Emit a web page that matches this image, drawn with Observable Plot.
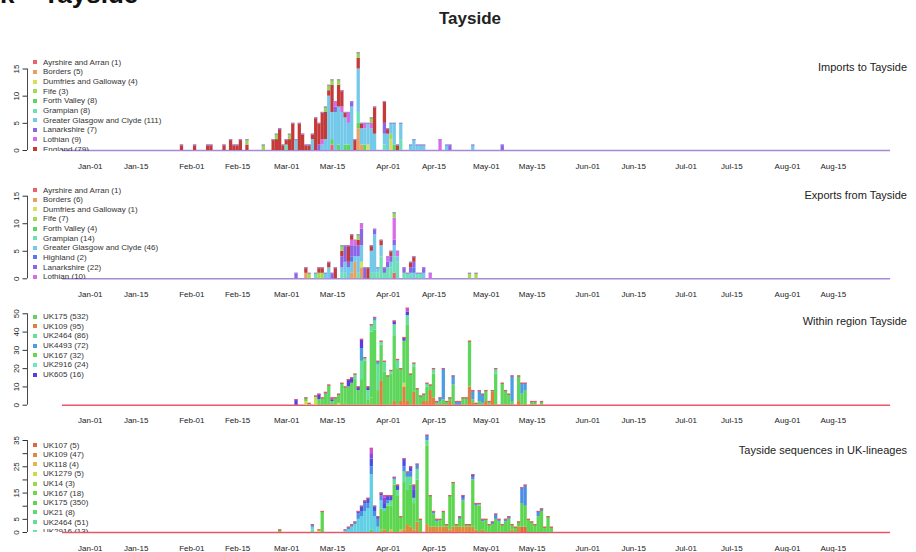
<!DOCTYPE html>
<html><head><meta charset="utf-8">
<script src="https://cdn.jsdelivr.net/npm/d3@7"></script>
<script src="https://cdn.jsdelivr.net/npm/@observablehq/plot@0.6"></script>
<style>
body{margin:0;background:#fff;font-family:"Liberation Sans",Arial,sans-serif;}
#page{position:relative;width:916px;height:552px;overflow:hidden;background:#fff;}
.panel{position:absolute;left:0;width:916px;}
.ptitle{position:absolute;right:9px;font-size:11px;line-height:11px;color:#222;white-space:nowrap;}
.legend{position:absolute;left:33px;width:200px;overflow:hidden;font-size:8px;color:#333;}
.legend .row{height:9.65px;display:flex;align-items:center;white-space:nowrap;}
.legend .sw{width:4px;height:4px;margin-right:6px;flex:none;}
#bigtitle{position:absolute;left:0;top:-19px;font-size:26px;line-height:26px;font-weight:bold;color:#111;white-space:nowrap;}
#title{position:absolute;left:470px;top:10.3px;transform:translateX(-50%);font-size:17px;line-height:17px;font-weight:bold;color:#222;}
</style></head>
<body><div id="page">
<div id="bigtitle">k – Tayside</div>
<div id="title">Tayside</div>
</div>
<script>
// ---------- shared axis data ----------
const xTickDates = ["2020-01-01","2020-01-15","2020-02-01","2020-02-15","2020-03-01","2020-03-15","2020-04-01","2020-04-15","2020-05-01","2020-05-15","2020-06-01","2020-06-15","2020-07-01","2020-07-15","2020-08-01","2020-08-15"];
const seriesRange = ["2019-12-24","2020-09-02"];

// ---------- panel 1: imports ----------
const importKeys = ["AA","BO","DG","FI","FV","GR","GGC","LA","LO","EN","X1"];
const importColors = ["#e8646a","#e8a063","#d8de5a","#a2dc52","#5cd65e","#6ee0b8","#74c8ea","#8c64e6","#d86ae8","#c33a38","#96d655"];
const importLegend = ["Ayrshire and Arran (1)","Borders (5)","Dumfries and Galloway (4)","Fife (3)","Forth Valley (8)","Grampian (8)","Greater Glasgow and Clyde (111)","Lanarkshire (7)","Lothian (9)","England (79)"];
const importDays = [
["01-29","EN:1"],["02-02","EN:1"],["02-06","EN:1"],["02-07","EN:1"],["02-11","EN:1"],
["02-13","EN:2"],["02-14","EN:1"],["02-15","EN:1"],["02-16","EN:2"],["02-18","EN:1 X1:1"],
["02-23","X1:1"],["02-26","EN:2"],["02-27","EN:2 X1:1"],["02-28","EN:4"],["02-29","EN:1"],
["03-01","GR:1 EN:1"],["03-02","EN:2 X1:1"],["03-03","EN:5"],["03-04","GGC:2"],["03-05","EN:5"],
["03-06","EN:3"],["03-07","EN:1"],["03-08","EN:1"],["03-09","GGC:2 EN:1"],["03-10","EN:6"],
["03-11","LA:1 EN:4"],["03-12","GGC:1 LO:1 EN:5"],["03-13","GGC:2 EN:5 X1:1"],["03-14","GGC:10 EN:1 X1:1"],
["03-15","AA:1 FV:1 GGC:5 EN:5 X1:1"],["03-16","GGC:7 LA:1 LO:1"],["03-17","FV:1 GGC:7 EN:4 X1:1"],
["03-18","GGC:7 LO:1 EN:3"],["03-19","FV:1 GGC:5 EN:1"],["03-20","FV:1 GGC:4 LO:2"],["03-21","GGC:8 LA:1"],
["03-22","EN:2"],["03-23","BO:4 FV:1 GR:2 GGC:8 EN:2 X1:1"],["03-24","BO:1 GGC:3 EN:1"],["03-25","FV:1 GGC:3 LO:1"],
["03-26","DG:1 GGC:4"],["03-27","GGC:4 LO:1 X1:1"],["03-28","GGC:3 EN:5"],["03-31","GR:1 GGC:2 LA:2 EN:4"],
["04-01","GGC:3 EN:1"],["04-02","DG:2 FI:1 GGC:2"],["04-03","FV:1 GGC:4"],["04-04","EN:1"],["04-05","GR:2 GGC:3"],
["04-08","GGC:1"],["04-09","GGC:2"],["04-10","GGC:1"],["04-11","GGC:1"],["04-12","GGC:1"],
["04-17","LO:2"],["04-19","GGC:1"],["04-20","LA:1"],["04-27","GGC:1"],["05-06","LA:1"]
];

// ---------- panel 2: exports ----------
const exportKeys = ["AA","BO","DG","FI","FV","GR","GGC","HI","LA","LO","EN","X1"];
const exportColors = ["#e8646a","#e8a063","#dce060","#a2dc52","#5cd65e","#6ee0b8","#74c8ea","#5c78e8","#8c64e6","#dc6aea","#c33a38","#96d655"];
const exportLegend = ["Ayrshire and Arran (1)","Borders (6)","Dumfries and Galloway (1)","Fife (7)","Forth Valley (4)","Grampian (14)","Greater Glasgow and Clyde (46)","Highland (2)","Lanarkshire (22)","Lothian (10)"];
const exportDays = [
["03-04","LA:1"],["03-07","BO:1 EN:1"],["03-08","FI:1"],["03-10","GR:1"],["03-11","FI:1 EN:1"],["03-12","FI:1 EN:1"],
["03-13","GGC:1"],["03-14","GGC:2 EN:1"],["03-15","LA:1"],["03-16","EN:2"],
["03-18","GR:1 GGC:1 LA:2 EN:1 X1:1"],["03-19","GR:1 GGC:2 LA:3"],["03-20","GGC:2 LA:1 EN:3"],
["03-21","BO:1 GGC:2 HI:1 LA:2 LO:1 EN:1"],["03-22","BO:3 GGC:1 LA:2 LO:1"],["03-23","GR:1 GGC:3 LA:2 EN:1 X1:1"],
["03-24","BO:2 DG:1 GGC:3 LA:3 LO:1"],["03-25","LA:2"],["03-26","EN:2"],["03-27","GR:1 GGC:4 EN:1"],
["03-28","GR:1 GGC:7 LA:1"],["03-29","GR:1 GGC:1"],["03-30","GR:4 GGC:2 EN:1"],["03-31","GR:1 LA:1"],
["04-01","GR:2 LA:1 LO:1"],["04-02","GR:2 GGC:1 LA:1 EN:1"],["04-03","AA:1 GR:3 GGC:2 LA:1 LO:4 X1:1"],
["04-04","GR:3 GGC:1 LO:1"],["04-06","GR:1 LA:1"],["04-07","GR:1"],["04-08","GR:1 LA:1 EN:1"],
["04-09","GGC:1 HI:1 LA:1 EN:1"],["04-10","GR:1"],["04-11","GR:1"],["04-12","GGC:1 LA:1"],["04-14","LO:1"],
["04-26","FI:1"],["04-28","FI:1"]
];

// ---------- panel 3: within region ----------
const withinKeys = ["UK109","Y","UK167","UK175","UK2464","UK2916","UK4493","UK605","M"];
const withinColors = ["#e0803c","#ccdc50","#6ad84a","#5ed65c","#64e09c","#6ce6c4","#4c9ee4","#5a3ce0","#c64ee0"];
const withinLegendKeys = ["UK175","UK109","UK2464","UK4493","UK167","UK2916","UK605"];
const withinLegend = ["UK175 (532)","UK109 (95)","UK2464 (86)","UK4493 (72)","UK167 (32)","UK2916 (24)","UK605 (16)"];
const withinDays = [
["03-04","UK605:3"],["03-07","Y:2 UK175:2"],["03-08","UK175:1"],["03-10","Y:4 UK175:1"],["03-11","UK175:3 UK605:3"],
["03-12","UK175:4"],["03-13","UK175:6 M:1"],["03-14","UK175:11"],["03-15","UK175:2 UK605:1 M:1"],["03-16","UK175:4"],
["03-17","Y:1 UK175:5"],["03-18","UK175:12"],["03-19","UK167:2 UK175:8"],["03-20","UK175:10 UK605:4"],
["03-21","UK175:12 UK605:3"],["03-22","UK175:14 UK2464:3"],["03-23","UK175:8 UK605:2"],
["03-24","UK175:14 UK2464:10 UK4493:7 UK605:5"],["03-25","UK175:24 UK2464:2"],["03-26","UK175:3 UK2464:5 UK605:2"],
["03-27","UK167:4 UK175:36 UK2464:4"],["03-28","UK175:41 UK2464:5 UK4493:2"],["03-29","UK175:8 UK2464:14 UK4493:2"],
["03-30","UK109:13 UK175:20 UK2464:2"],["03-31","UK175:18 UK2464:6"],["04-01","UK175:16"],["04-02","UK175:17 UK2464:2"],
["04-03","UK109:2 UK175:36 UK2464:6 UK605:2"],["04-04","UK175:20 UK2464:5"],["04-05","UK109:2 UK175:18"],
["04-06","UK109:10 Y:2 UK175:23 UK605:2"],["04-07","UK109:2 UK175:42 UK2464:5 UK605:2 M:2"],["04-08","UK175:17"],
["04-09","UK109:7 UK175:14 UK2464:2"],["04-10","UK175:9"],["04-11","UK175:5"],["04-12","UK109:2 UK175:4"],
["04-13","UK109:2 UK175:8 UK2464:2"],["04-14","UK109:8 UK175:3"],["04-15","UK109:4 UK175:13 UK2464:3"],
["04-16","UK175:1 UK4493:1"],["04-17","UK175:2 UK4493:2"],["04-18","UK175:3 UK4493:17"],["04-19","UK175:2"],
["04-20","UK109:2 UK175:2"],["04-21","UK175:11 UK4493:5"],["04-22","UK4493:2"],["04-23","UK4493:2"],
["04-24","UK175:4"],["04-25","UK175:4"],["04-26","UK109:10 UK175:25"],["04-27","UK109:1 UK175:2 UK4493:5"],
["04-28","UK175:1"],["04-29","UK175:2 UK4493:6"],["04-30","UK175:1 UK4493:5"],["05-01","UK109:2 UK175:6"],
["05-02","UK175:2"],["05-03","UK109:7 UK175:1"],["05-04","UK175:17 UK2464:3"],["05-06","UK175:12"],
["05-07","UK175:8"],["05-08","UK175:6"],["05-09","UK175:2 UK4493:14"],["05-11","UK109:2 UK175:14"],
["05-12","UK175:6 UK4493:6"],["05-13","UK175:8 UK4493:4"],["05-15","UK175:2"],["05-16","UK175:2"],["05-18","UK175:2"]
];

// ---------- panel 4: UK lineages ----------
const lineageKeys = ["UK107","UK109","UK118","UK1279","UK14","UK167","UK175","UK21","UK2464","UK2916","C","B","I","P","M"];
const lineageColors = ["#e0663e","#e08a3e","#e2b84a","#cadc4a","#98d84a","#6cd84a","#5cd64e","#5eda70","#62de96","#66e4b8","#60d0e4","#4c8ee4","#4a4ee2","#8c46e2","#ca50e2"];
const lineageLegend = ["UK107 (5)","UK109 (47)","UK118 (4)","UK1279 (5)","UK14 (3)","UK167 (18)","UK175 (350)","UK21 (8)","UK2464 (51)","UK2916 (13)"];
const lineageDays = [
["02-28","UK175:1"],["03-09","UK2464:1 C:1 B:1"],["03-11","UK1279:1"],["03-12","UK175:8"],
["03-19","C:1"],["03-20","C:1 B:1"],["03-21","C:2 B:1"],["03-22","C:3 B:1"],["03-23","C:5 B:2 I:1"],
["03-24","C:6 B:2 I:2"],["03-25","C:8 B:3 I:1"],["03-26","C:9 B:2 I:2"],["03-27","UK175:1 C:21 B:3 I:3 P:2 M:2"],
["03-28","C:6 B:2 I:2"],["03-29","C:2 B:3 I:1"],["03-30","UK167:1 UK175:8 C:3 B:2 I:1"],
["03-31","UK109:1 UK175:7 C:1 I:2 P:2 M:1"],["04-01","UK175:10 UK2464:1 B:1 I:2"],["04-02","UK118:1 UK175:9 UK2464:2 I:2"],
["04-03","UK175:18 UK2464:2 B:1"],["04-04","UK175:14 UK2464:2 I:2"],["04-05","UK118:1 UK175:5"],
["04-06","UK109:1 UK175:18 UK2464:4 B:2 I:3"],["04-07","UK109:3 UK175:13 UK2464:5 B:2"],
["04-08","UK109:2 UK175:16 UK2464:3 B:2 I:2"],["04-09","UK109:1 UK175:10 UK2464:2 I:3 P:2"],
["04-10","UK109:4 UK175:16 UK2464:4 B:2"],["04-11","UK175:5"],["04-13","UK109:3 UK175:30 UK2464:2 B:2"],
["04-14","UK109:2 UK175:12"],["04-15","UK109:2 UK175:5 B:1"],["04-16","UK109:2 UK175:2 B:1"],["04-17","UK109:2 UK175:3"],
["04-18","UK109:2 UK175:6"],["04-19","UK109:2 UK175:1"],["04-20","UK109:1 UK175:13"],["04-21","UK109:2 UK175:17"],
["04-22","UK109:2 UK175:1"],["04-23","UK109:2 UK175:3 B:1"],["04-24","UK109:2 UK175:10 B:1 I:1"],
["04-25","UK109:2 UK175:1"],["04-26","UK109:2 UK175:1"],["04-27","UK109:2 UK175:18 B:1 I:1"],
["04-28","UK109:1 UK175:9 B:1"],["04-29","UK175:10 UK2464:1"],["04-30","UK109:1 UK175:3 B:1"],
["05-01","UK175:5"],["05-02","UK175:3"],["05-03","UK175:3 B:1"],["05-04","UK175:5 B:2"],["05-05","UK175:4 B:1"],
["05-06","UK175:3"],["05-07","UK175:4 B:1"],["05-08","UK175:5 B:1"],["05-09","UK109:1 UK175:2"],["05-10","UK175:2"],
["05-11","UK109:2 UK175:2"],["05-12","UK107:2 UK175:9 B:6"],["05-13","UK107:2 UK175:8 B:8"],["05-14","UK175:5"],
["05-15","UK175:4"],["05-16","UK175:3"],["05-17","UK175:6 B:2"],["05-18","UK175:8 B:1"],["05-19","UK175:2"],
["05-20","UK175:6"],["05-21","UK175:2"]
];

// ---------- helpers ----------
const DAY = 864e5;
const PX_PER_DAY = 3.273, JAN1_PX = 88.2, ML = 27, W = 916;
const jan1 = Date.UTC(2020, 0, 1);
const xDomain = [new Date(jan1 - (JAN1_PX - ML) / PX_PER_DAY * DAY), new Date(jan1 + (W - JAN1_PX) / PX_PER_DAY * DAY)];
const toDate = s => new Date(s + "T00:00:00Z");
function expand(days) {
  const rows = [];
  for (const [md, spec] of days) {
    const date = toDate("2020-" + md);
    for (const tok of spec.split(" ")) {
      const [key, n] = tok.split(":");
      rows.push({date, end: new Date(+date + DAY), key, n: +n});
    }
  }
  return rows;
}
function totalsOf(rows) {
  return Array.from(d3.rollup(rows, v => d3.sum(v, d => d.n), d => +d.date), ([t, total]) => ({date: new Date(t), end: new Date(t + DAY), total}));
}
const page = document.getElementById("page");

function panel(o) {
  const rows = expand(o.days);
  const totals = totalsOf(rows);
  const labelSet = new Set(o.yLabels);
  const svg = Plot.plot({
    width: W, height: o.height,
    marginLeft: ML, marginRight: 0, marginTop: o.marginTop, marginBottom: o.marginBottom,
    x: {type: "utc", domain: xDomain, label: null},
    y: {domain: [0, o.yMax], label: null},
    color: {domain: o.keys, range: o.colors},
    style: {fontFamily: "'Liberation Sans', Arial, sans-serif", fontSize: "8px", color: "#222", background: "transparent", overflow: "visible"},
    marks: [
      Plot.ruleY([{y: 0, x1: toDate(seriesRange[0]), x2: toDate(seriesRange[1])}], {y: "y", x1: "x1", x2: "x2", stroke: o.cap, strokeWidth: 1.4}),
      Plot.rectY(rows, Plot.stackY({x1: "date", x2: "end", y: "n", z: "key", fill: "key", order: o.keys, inset: 0, insetLeft: 0, insetRight: 0})),
      Plot.ruleY(totals, {x1: "date", x2: "end", y: "total", stroke: o.cap, strokeWidth: 1.3}),
      Plot.ruleX([xDomain[0]], {y1: 0, y2: o.yMax, stroke: "#333", strokeWidth: 0.9}),
      Plot.axisY({ticks: o.yTicks, tickSize: 4.5, tickRotate: -90, tickPadding: 4, stroke: "#333", fill: "#222", fontSize: 8,
                  tickFormat: d => labelSet.has(d) ? String(d) : ""}),
      Plot.axisX({ticks: xTickDates.map(s => new Date(+toDate(s) + DAY / 2)), tickSize: 0, tickPadding: 12.5, fontSize: 8, fill: "#222",
                  tickFormat: d3.utcFormat("%b-%d")})
    ]
  });
  const wrap = document.createElement("div");
  wrap.className = "panel";
  wrap.style.top = o.top + "px";
  wrap.style.height = o.height + "px";
  wrap.appendChild(svg);
  page.appendChild(wrap);
  // legend
  const lg = document.createElement("div");
  lg.className = "legend";
  const lgTop = o.legendFirst - 4.8;
  lg.style.top = lgTop + "px";
  lg.style.height = (o.legendClip - lgTop) + "px";
  o.legendLabels.forEach((lab, i) => {
    const key = o.legendKeys ? o.legendKeys[i] : o.keys[i];
    const r = document.createElement("div");
    r.className = "row";
    const sw = document.createElement("span");
    sw.className = "sw";
    sw.style.background = o.colors[o.keys.indexOf(key)];
    r.appendChild(sw);
    r.appendChild(document.createTextNode(lab));
    lg.appendChild(r);
  });
  page.appendChild(lg);
  const t = document.createElement("div");
  t.className = "ptitle";
  t.style.top = (o.titleCenter - 5.3) + "px";
  t.textContent = o.title;
  page.appendChild(t);
}

panel({top: 40, height: 135, marginTop: 28.5, marginBottom: 25, yMax: 15, yTicks: [0,5,10,15], yLabels: [0,5,10,15],
  keys: importKeys, colors: importColors, cap: "#a68ad8", days: importDays,
  legendLabels: importLegend, legendFirst: 62.3, legendClip: 151, title: "Imports to Tayside", titleCenter: 67.3});
panel({top: 175, height: 128, marginTop: 20.7, marginBottom: 24.7, yMax: 15, yTicks: [0,5,10,15], yLabels: [0,5,10,15],
  keys: exportKeys, colors: exportColors, cap: "#a68ad8", days: exportDays,
  legendLabels: exportLegend, legendFirst: 190, legendClip: 279, title: "Exports from Tayside", titleCenter: 195});
panel({top: 303, height: 127, marginTop: 10.3, marginBottom: 25.3, yMax: 50, yTicks: [0,10,20,30,40,50], yLabels: [0,10,20,30,40,50],
  keys: withinKeys, colors: withinColors, cap: "#e8566a", days: withinDays,
  legendLabels: withinLegend, legendKeys: withinLegendKeys, legendFirst: 316.7, legendClip: 404, title: "Within region Tayside", titleCenter: 321.7});
panel({top: 430, height: 122, marginTop: 10, marginBottom: 20, yMax: 35, yTicks: [0,5,10,15,20,25,30,35], yLabels: [0,5,15,25,35],
  keys: lineageKeys, colors: lineageColors, cap: "#e8566a", days: lineageDays,
  legendLabels: lineageLegend, legendFirst: 445, legendClip: 532.5, title: "Tayside sequences in UK-lineages", titleCenter: 450});
</script>
</body></html>
